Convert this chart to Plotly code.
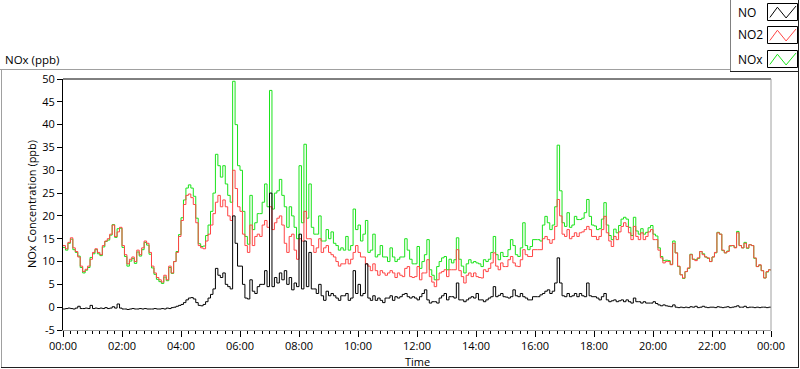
import pandas as pd
import plotly.graph_objects as go

# ---------------- data (5-minute steps, 00:00 .. 24:00) ----------------
NO = [
    -0.4, -0.3, -0.2, -0.3, -0.4, -0.2, 0.2, -0.3, -0.3, -0.2, -0.3, 0.4,
    -0.3, -0.2, -0.3, -0.2, -0.3, -0.1, -0.3, -0.2, 0.1, -0.2, 0.7, -0.2,
    -0.4, -0.4, -0.5, -0.4, -0.3, -0.4, -0.4, -0.3, -0.4, -0.3, -0.4, -0.4,
    -0.4, -0.3, -0.4, -0.4, -0.3, -0.4, -0.2, -0.3, -0.1, 0.0, 0.2, 0.4,
    0.6, 1.0, 1.6, 2.0, 2.1, 1.8, 1.0, 0.4, 0.3, 0.6, 1.2, 2.0,
    2.8, 4.0, 8.5, 7.0, 6.5, 7.5, 5.0, 4.5, 4.0, 20.0, 14.0, 9.0,
    9.0, 5.0, 2.0, 1.8, 6.0, 3.5, 3.0, 4.5, 5.0, 5.0, 8.0, 4.5,
    25.0, 4.5, 6.5, 5.3, 7.5, 6.0, 8.0, 5.0, 6.5, 3.8, 5.3, 4.5,
    16.0, 4.0, 14.5, 4.5, 12.0, 4.0, 4.0, 3.0, 5.0, 2.5, 1.5, 3.5,
    2.5, 3.0, 2.5, 2.0, 1.5, 2.5, 2.5, 3.0, 1.5, 2.0, 8.0, 3.0,
    5.0, 2.5, 3.0, 9.5, 2.0, 1.5, 2.5, 1.5, 2.0, 1.5, 1.0, 2.0,
    2.0, 2.5, 1.5, 2.3, 2.0, 2.3, 2.8, 3.0, 2.3, 2.0, 2.3, 2.0,
    1.6, 2.3, 3.0, 3.8, 1.6, 0.9, 1.2, 1.2, 0.9, 2.0, 2.5, 3.0,
    1.6, 2.3, 2.3, 2.0, 5.3, 1.6, 1.6, 1.2, 1.6, 2.0, 2.3, 2.0,
    3.0, 1.6, 1.6, 1.2, 1.6, 2.0, 2.3, 4.5, 2.3, 2.6, 3.0, 2.3,
    2.2, 2.0, 2.3, 3.8, 2.5, 2.3, 3.0, 2.3, 2.0, 1.6, 1.6, 2.3,
    2.3, 2.3, 2.7, 3.0, 3.5, 3.8, 3.0, 3.5, 5.3, 10.8, 5.3, 2.5,
    2.3, 3.0, 2.3, 2.5, 3.0, 2.3, 3.0, 2.5, 2.3, 5.3, 2.5, 2.3,
    2.3, 2.0, 1.6, 2.3, 3.0, 1.6, 1.2, 1.4, 1.6, 1.2, 1.4, 1.6,
    1.2, 1.6, 1.2, 0.9, 2.0, 1.2, 1.2, 0.9, 1.2, 0.9, 0.9, 0.9,
    1.2, 0.8, 0.5, 0.3, 0.5, 0.3, 0.2, 0.1, 0.5, 0.0, -0.1, 0.0,
    -0.1, 0.0, -0.1, 0.1, 0.0, 0.2, -0.1, 0.0, 0.2, 0.0, -0.1, 0.0,
    0.0, -0.1, 0.1, 0.0, -0.1, 0.0, 0.1, -0.1, 0.0, 0.1, 0.3, 0.0,
    0.0, 0.2, -0.1, 0.0, 0.0, -0.1, 0.0, -0.1, 0.0, 0.0, -0.1, 0.0,
    0.0,
]

NO2 = [
    13.5, 12.8, 14.2, 15.2, 13.0, 12.2, 11.0, 9.0, 7.8, 8.3, 9.0, 10.5,
    12.0, 12.8, 12.0, 11.5, 13.5, 14.5, 15.0, 16.0, 18.0, 15.5, 16.5, 17.5,
    13.5, 11.5, 9.5, 10.5, 11.0, 10.0, 12.5, 11.5, 13.0, 14.5, 14.0, 12.0,
    9.0, 7.5, 6.5, 6.0, 5.5, 7.0, 6.0, 9.0, 7.5, 10.0, 12.0, 15.5,
    19.0, 22.5, 24.5, 24.8, 24.0, 22.5, 18.5, 13.5, 13.0, 12.8, 14.5, 16.0,
    18.0, 20.5, 23.0, 24.5, 22.0, 23.5, 22.0, 20.0, 19.0, 30.0, 26.0, 22.0,
    21.0, 16.0, 13.5, 12.0, 18.0, 13.5, 15.5, 16.0, 15.5, 18.0, 19.0, 17.5,
    22.0, 17.0, 18.5, 19.5, 20.0, 18.0, 14.0, 12.0, 15.5, 16.0, 12.5, 10.5,
    15.0, 14.5, 21.0, 15.0, 15.0, 13.5, 12.0, 13.0, 15.0, 12.0, 13.0, 13.5,
    12.0, 11.5, 11.0, 10.0, 9.0, 9.5, 9.5, 10.5, 9.5, 10.5, 12.0, 13.5,
    12.0, 11.0, 11.0, 9.5, 9.0, 8.0, 9.5, 8.0, 7.0, 8.0, 7.5, 7.0,
    7.5, 8.0, 7.5, 6.5, 7.5, 7.0, 6.7, 8.5, 8.9, 6.7, 6.5, 6.7,
    8.9, 6.0, 7.5, 7.5, 10.4, 6.7, 5.5, 4.5, 6.0, 7.5, 7.8, 8.2,
    6.7, 8.2, 8.2, 8.2, 12.6, 8.0, 6.7, 5.3, 7.0, 7.5, 6.7, 7.5,
    6.7, 6.5, 6.4, 8.2, 7.8, 8.5, 9.7, 11.9, 9.0, 8.2, 9.7, 8.9,
    8.9, 10.4, 11.1, 9.7, 9.0, 8.9, 10.4, 12.6, 11.5, 11.1, 11.1, 12.6,
    12.6, 12.6, 12.6, 15.0, 15.5, 14.8, 14.0, 14.8, 17.7, 23.6, 20.0, 16.0,
    15.5, 17.0, 15.0, 15.5, 16.3, 15.5, 16.3, 16.5, 17.0, 17.7, 17.0, 15.5,
    15.5, 14.8, 15.5, 17.0, 19.9, 16.3, 14.5, 13.3, 15.5, 14.8, 16.5, 17.7,
    18.5, 17.7, 16.3, 14.8, 17.7, 15.5, 14.8, 16.3, 14.8, 15.5, 16.5, 17.0,
    14.8, 14.8, 12.5, 10.8, 9.7, 10.0, 10.0, 9.3, 14.0, 11.9, 9.0, 7.1,
    6.4, 7.8, 8.6, 11.5, 10.5, 10.2, 10.8, 12.2, 11.5, 11.0, 10.8, 10.0,
    11.0, 12.0, 16.3, 16.0, 12.5, 11.9, 12.2, 13.5, 13.5, 13.0, 16.3, 13.5,
    13.0, 14.0, 13.0, 13.7, 13.5, 10.8, 8.9, 9.3, 8.0, 6.4, 7.8, 8.2,
    8.0,
]

NOX = [
    13.1, 12.5, 14.0, 14.9, 12.6, 12.0, 11.2, 8.7, 7.5, 8.1, 8.7, 10.9,
    11.7, 12.6, 11.7, 11.3, 13.2, 14.4, 14.7, 15.8, 18.1, 15.3, 17.2, 17.3,
    13.1, 11.1, 9.0, 10.1, 10.7, 9.6, 12.1, 11.2, 12.6, 14.2, 13.6, 11.6,
    8.6, 7.2, 6.1, 5.6, 5.2, 6.6, 5.8, 8.7, 7.4, 10.0, 12.2, 15.9,
    19.6, 23.5, 26.1, 26.8, 26.1, 24.3, 19.5, 13.9, 13.3, 13.4, 15.7, 18.0,
    21.0, 25.0, 33.5, 31.0, 28.5, 31.0, 27.0, 24.5, 23.0, 49.5, 40.0, 31.0,
    30.0, 21.0, 15.5, 13.8, 24.5, 17.0, 18.5, 20.5, 20.5, 23.0, 27.0, 22.0,
    47.5, 21.5, 25.0, 25.5, 28.0, 24.5, 22.0, 17.5, 22.0, 20.0, 17.5, 15.0,
    31.0, 18.5, 35.7, 19.5, 27.0, 17.5, 16.0, 16.0, 20.0, 14.5, 14.5, 17.0,
    15.0, 16.5, 14.0, 13.5, 12.5, 13.0, 12.5, 15.5, 12.5, 13.5, 21.5, 17.0,
    18.0, 14.5, 16.0, 19.0, 12.0, 12.5, 16.0, 11.0, 11.5, 13.5, 11.0, 11.0,
    10.0, 13.0, 11.0, 10.0, 10.5, 11.0, 11.0, 15.0, 12.5, 10.5, 9.5, 9.5,
    13.3, 8.5, 10.0, 11.5, 14.8, 8.2, 7.0, 6.0, 8.9, 10.0, 10.8, 11.1,
    8.2, 10.5, 9.7, 10.4, 15.2, 10.5, 9.0, 7.5, 9.5, 10.4, 9.7, 10.0,
    9.7, 9.5, 8.9, 10.4, 10.0, 10.5, 12.0, 15.5, 11.5, 10.4, 12.0, 11.1,
    11.1, 12.6, 14.8, 13.5, 11.5, 11.1, 13.0, 18.5, 13.5, 12.6, 13.3, 14.8,
    14.8, 14.8, 14.5, 18.0, 19.9, 18.5, 17.0, 18.0, 22.0, 35.5, 25.5, 18.5,
    17.7, 20.7, 17.5, 18.0, 19.9, 19.2, 19.2, 19.5, 20.7, 23.6, 19.9, 18.0,
    17.8, 17.0, 17.2, 19.3, 22.9, 18.0, 15.7, 14.8, 17.1, 16.3, 17.9, 19.3,
    19.7, 19.3, 17.5, 15.7, 19.7, 16.7, 16.0, 17.2, 16.0, 16.4, 17.4, 17.9,
    16.0, 15.6, 13.0, 11.1, 10.2, 10.3, 10.2, 9.4, 14.5, 11.9, 8.9, 7.1,
    6.3, 7.8, 8.5, 11.6, 10.5, 10.4, 10.7, 12.2, 11.7, 11.0, 10.7, 10.0,
    11.0, 11.9, 16.4, 16.0, 12.4, 11.9, 12.3, 13.4, 13.5, 13.1, 16.6, 13.5,
    13.0, 14.2, 12.9, 13.7, 13.5, 10.7, 8.9, 9.2, 8.0, 6.4, 7.7, 8.2,
    8.0,
]

SERIES_NAMES = ["NO", "NO2", "NOx"]
X_TICK_LABELS = ["00:00", "02:00", "04:00", "06:00", "08:00", "10:00", "12:00",
                 "14:00", "16:00", "18:00", "20:00", "22:00", "00:00"]
Y_TICK_VALUES = [-5, 0, 5, 10, 15, 20, 25, 30, 35, 40, 45, 50]
Y_TICK_LABELS = ["-5", "0", "5", "10", "15", "20", "25", "30", "35", "40", "45", "50"]

# ---------------- layout geometry ----------------
W, H = 800, 369
L, R, T, B = 63, 29, 79, 39
PW, PH = W - L - R, H - T - B
FONT = "Open Sans"
FS = 11


def px(x):
    return (x - L) / PW


def py(y):
    return (H - B - y) / PH


times = pd.date_range("2021-01-01 00:00", periods=len(NO), freq="5min")
tick_times = pd.date_range("2021-01-01 00:00", periods=len(X_TICK_LABELS), freq="2h")

fig = go.Figure()
colors = {"NO": "#000000", "NO2": "#ff4545", "NOx": "#1be31b"}
for name, vals in [("NOx", NOX), ("NO2", NO2), ("NO", NO)]:
    fig.add_trace(go.Scatter(x=times, y=vals, mode="lines", name=name,
                             line=dict(color=colors[name], width=1, shape="hv"),
                             showlegend=False, hoverinfo="skip"))

fig.update_layout(
    width=W, height=H,
    margin=dict(l=L, r=R, t=T, b=B, pad=0),
    paper_bgcolor="white", plot_bgcolor="white",
    font=dict(family=FONT, size=FS, color="black"),
    xaxis=dict(
        range=[times[0], times[-1]],
        tickmode="array", tickvals=tick_times, ticktext=X_TICK_LABELS,
        ticks="outside", ticklen=6, tickcolor="black", tickwidth=1,
        showline=True, linecolor="#a0a0a0", linewidth=1,
        showgrid=False, zeroline=False,
        minor=dict(dtick=15 * 60 * 1000, ticks="outside", ticklen=3,
                   tickcolor="black", tickwidth=1, showgrid=False),
        tickfont=dict(family=FONT, size=FS, color="black"),
        fixedrange=True,
    ),
    yaxis=dict(
        range=[-5, 50],
        tickmode="array", tickvals=Y_TICK_VALUES, ticktext=Y_TICK_LABELS,
        ticks="outside", ticklen=5, tickcolor="black", tickwidth=1,
        showline=True, linecolor="black", linewidth=1,
        showgrid=False, zeroline=False,
        tickfont=dict(family=FONT, size=FS, color="black"),
        fixedrange=True,
    ),
)

shapes = []
# plot area: top black, right gray
shapes.append(dict(type="line", xref="paper", yref="paper", x0=0, x1=1, y0=1, y1=1,
                   line=dict(color="black", width=1)))
shapes.append(dict(type="line", xref="paper", yref="paper", x0=1, x1=1, y0=0, y1=1,
                   line=dict(color="#a0a0a0", width=1)))
# outer frame
shapes.append(dict(type="line", xref="paper", yref="paper", x0=px(0), x1=px(730.5),
                   y0=py(69.5), y1=py(69.5), line=dict(color="#a0a0a0", width=1)))
shapes.append(dict(type="line", xref="paper", yref="paper", x0=px(1.5), x1=px(1.5),
                   y0=py(69.5), y1=py(367.5), line=dict(color="#a0a0a0", width=1)))
shapes.append(dict(type="line", xref="paper", yref="paper", x0=px(1), x1=px(799),
                   y0=py(367.5), y1=py(367.5), line=dict(color="#202020", width=1)))
shapes.append(dict(type="line", xref="paper", yref="paper", x0=px(798.5), x1=px(798.5),
                   y0=py(0), y1=py(368), line=dict(color="#202020", width=1)))
# legend box
shapes.append(dict(type="line", xref="paper", yref="paper", x0=px(730.5), x1=px(730.5),
                   y0=py(0), y1=py(72), line=dict(color="#808080", width=1)))
shapes.append(dict(type="line", xref="paper", yref="paper", x0=px(730), x1=px(799),
                   y0=py(71.5), y1=py(71.5), line=dict(color="#202020", width=1)))

annotations = []
legend_rows = [("NO", 3.5, 20.5), ("NO2", 26.5, 43.5), ("NOx", 50.5, 67.5)]
for name, top, bot in legend_rows:
    x0, x1 = 767.5, 797.5
    shapes.append(dict(type="rect", xref="paper", yref="paper",
                       x0=px(x0), x1=px(x1), y0=py(bot), y1=py(top),
                       line=dict(color="black", width=1), fillcolor="white"))
    hgt = bot - top
    wid = x1 - x0
    pts = [(0.08, 0.82), (0.33, 0.22), (0.62, 0.85), (0.95, 0.15)]
    path = " ".join(
        ("M" if i == 0 else "L") + f"{px(x0 + fx * wid):.5f},{py(top + fy * hgt):.5f}"
        for i, (fx, fy) in enumerate(pts))
    shapes.append(dict(type="path", xref="paper", yref="paper", path=path,
                       line=dict(color=colors[name], width=1)))
    annotations.append(dict(text=name, xref="paper", yref="paper",
                            x=px(736), y=py((top + bot) / 2), xanchor="left",
                            yanchor="middle", showarrow=False,
                            font=dict(family=FONT, size=12, color="black")))

annotations.append(dict(text="NOx (ppb)", xref="paper", yref="paper",
                        x=px(3), y=py(59), xanchor="left", yanchor="middle",
                        showarrow=False, font=dict(family=FONT, size=11.5, color="black")))
annotations.append(dict(text="Time", xref="paper", yref="paper",
                        x=0.5, y=py(361), xanchor="center", yanchor="middle",
                        showarrow=False, font=dict(family=FONT, size=FS, color="black")))
annotations.append(dict(text="NOx Concentration (ppb)", xref="paper", yref="paper",
                        x=px(31.5), y=0.5, xanchor="center", yanchor="middle",
                        textangle=-90, showarrow=False,
                        font=dict(family=FONT, size=FS, color="black")))

fig.update_layout(shapes=shapes, annotations=annotations)
fig.write_html("out.html",
               config={"displayModeBar": False, "staticPlot": True},
               post_script="document.body.style.margin='0';document.body.style.overflow='hidden';")
